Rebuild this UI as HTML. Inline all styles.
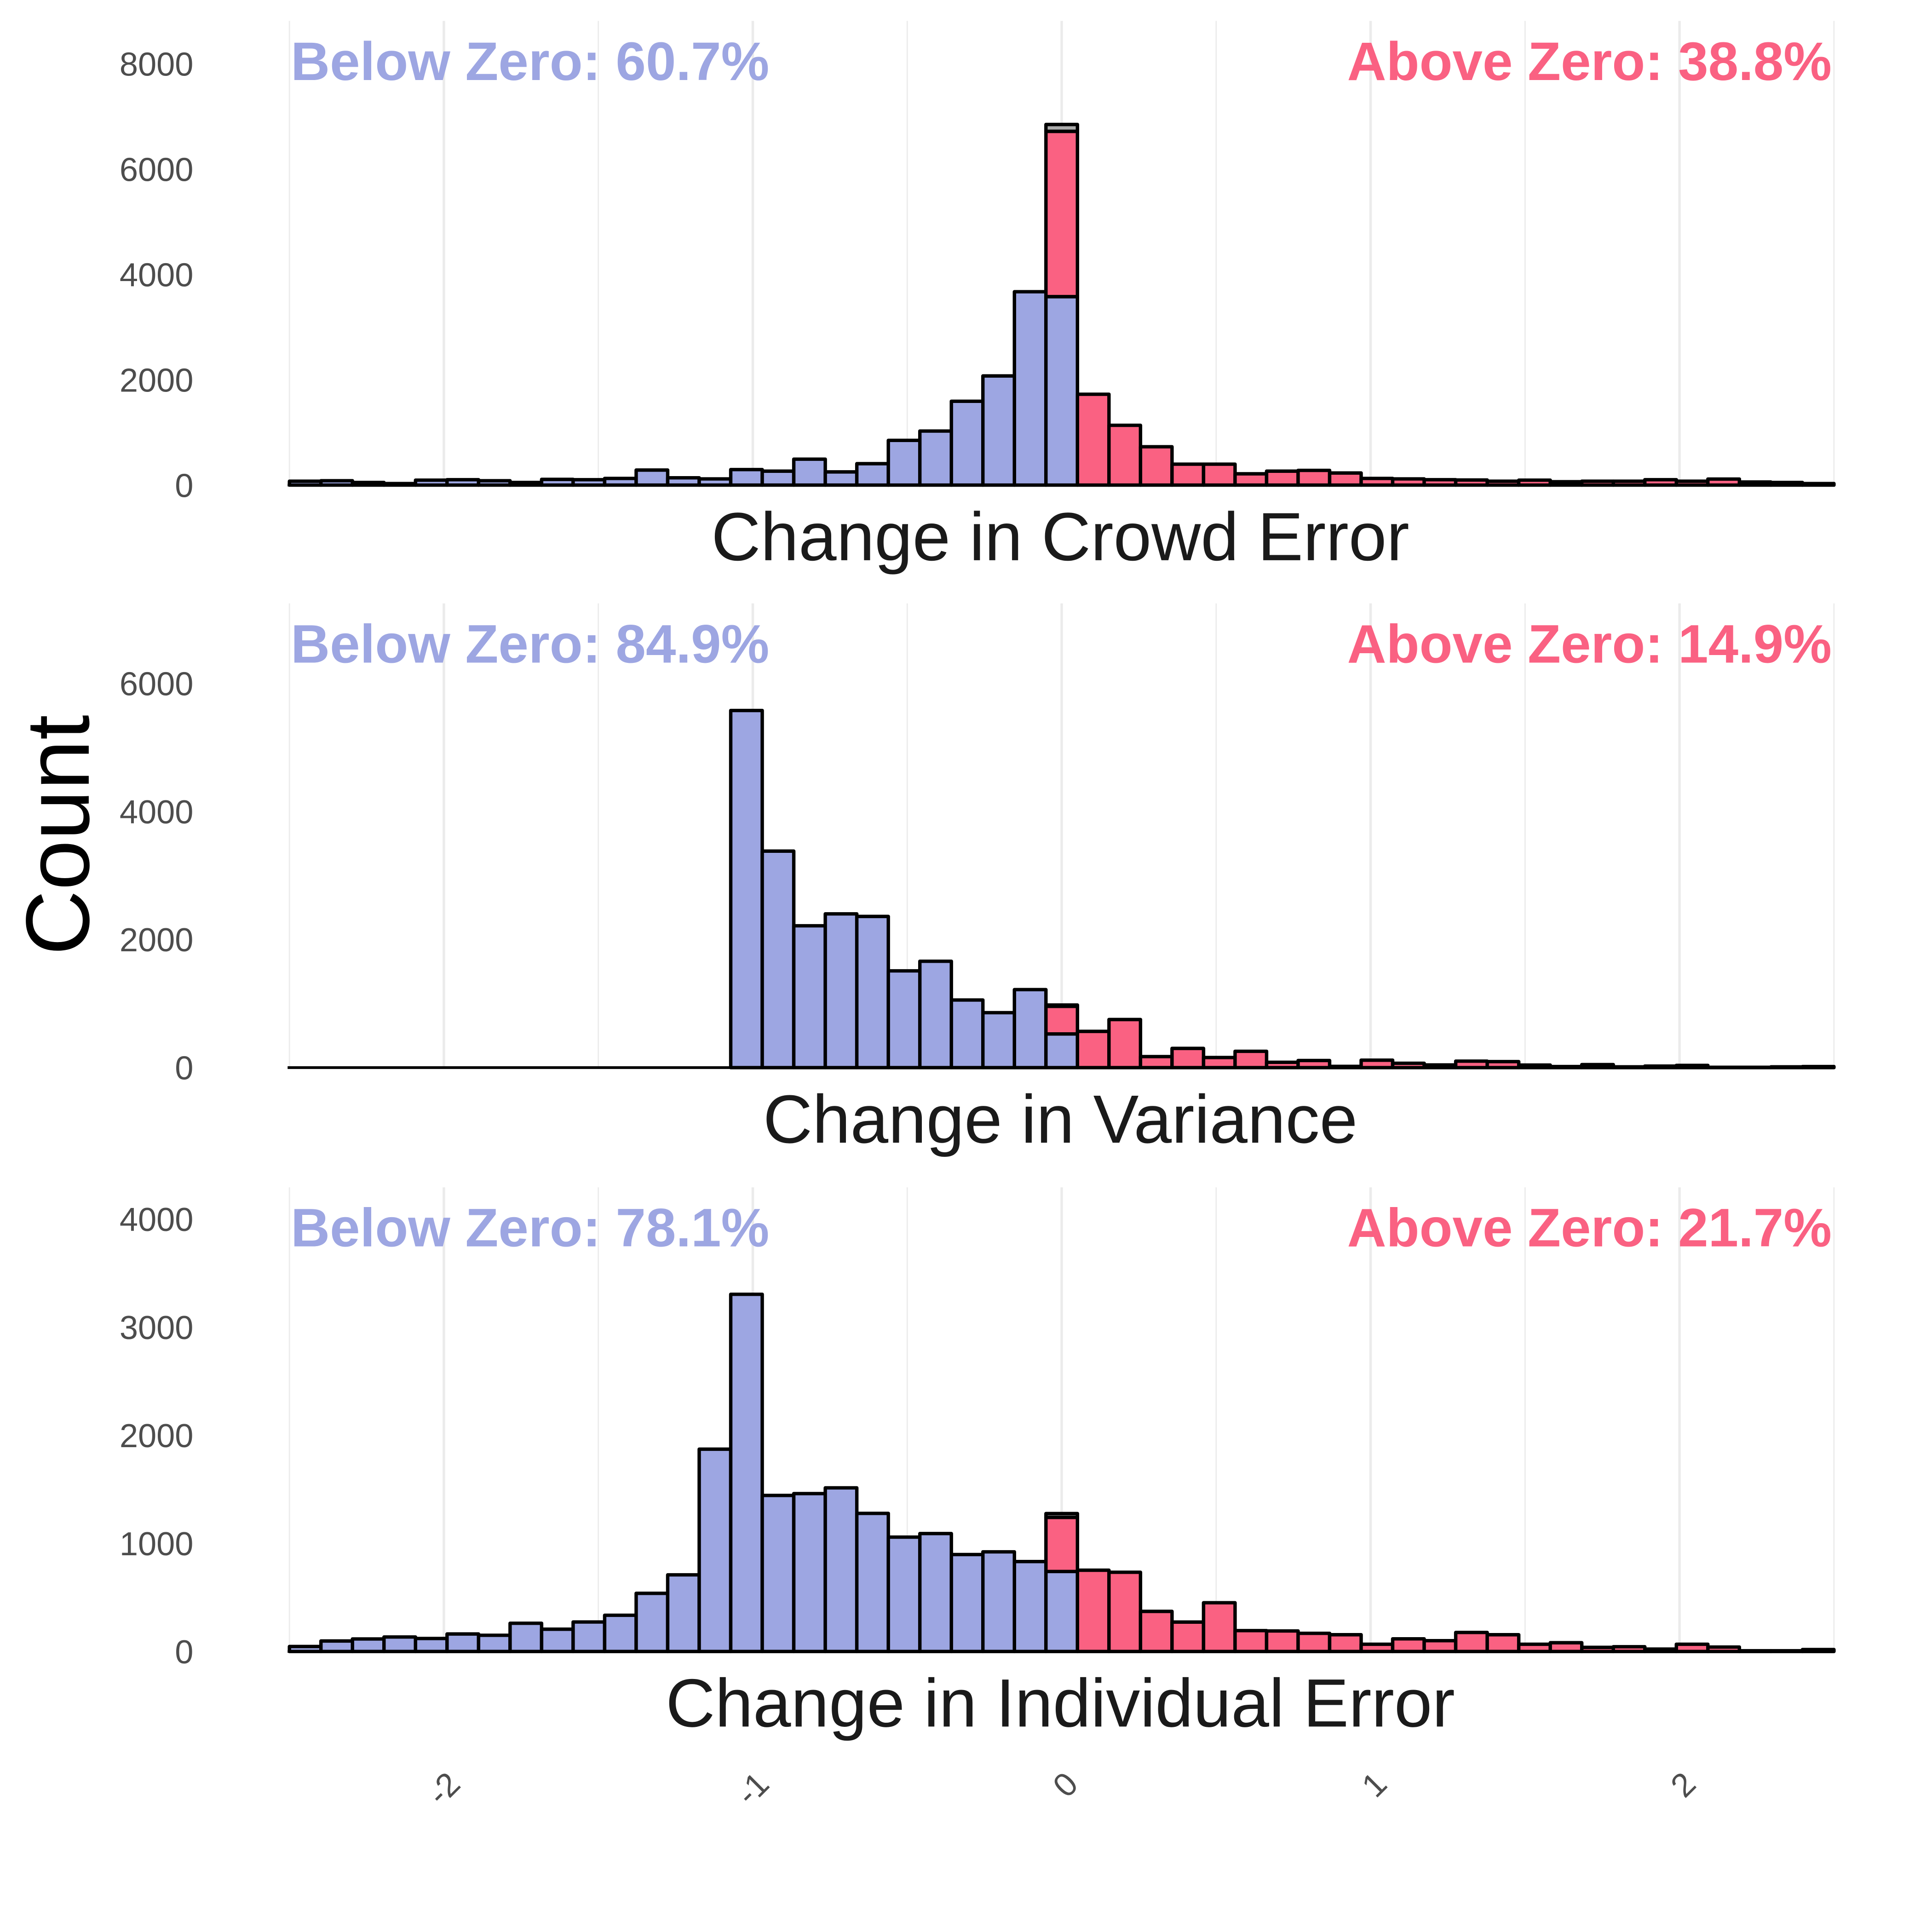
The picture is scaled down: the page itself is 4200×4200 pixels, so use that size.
<!DOCTYPE html>
<html><head><meta charset="utf-8">
<style>
html,body{margin:0;padding:0;background:#fff;}
svg{display:block;}
text{font-family:"Liberation Sans",Arial,sans-serif;}
</style></head>
<body>
<svg width="4200" height="4200" viewBox="0 0 4200 4200" xmlns="http://www.w3.org/2000/svg">
<rect width="4200" height="4200" fill="#ffffff"/>
<g id="chart" transform="scale(0.9893)">
<text transform="translate(195,1835) rotate(-90)" text-anchor="middle" font-size="198" fill="#000">Count</text>
</g>
</svg>
<script>
// ---- data (counts per bin, 49 bins spanning -2.5..2.5) ----
const titles = ["Change in Crowd Error", "Change in Variance", "Change in Individual Error"];
const belowLabels = ["Below Zero: 60.7%", "Below Zero: 84.9%", "Below Zero: 78.1%"];
const aboveLabels = ["Above Zero: 38.8%", "Above Zero: 14.9%", "Above Zero: 21.7%"];
const xTicks = [-2, -1, 0, 1, 2];
const xTickLabels = ["-2", "-1", "0", "1", "2"];
const yTicks1 = [0, 2000, 4000, 6000, 8000];
const yTicks2 = [0, 2000, 4000, 6000];
const yTicks3 = [0, 1000, 2000, 3000, 4000];

const below1 = [74,83,50,30,94,103,83,50,109,103,127,286,139,118,295,265,493,251,407,850,1027,1593,2074,3673,3580,0,0,0,0,0,0,0,0,0,0,0,0,0,0,0,0,0,0,0,0,0,0,0,0];
const above1 = [0,0,0,0,0,0,0,0,0,0,0,0,0,0,0,0,0,0,0,0,0,0,0,0,3140,1726,1136,729,398,398,215,265,280,230,127,118,103,97,74,94,65,74,74,103,74,115,59,50,30];
const zero1  = [0,0,0,0,0,0,0,0,0,0,0,0,0,0,0,0,0,0,0,0,0,0,0,0,130,0,0,0,0,0,0,0,0,0,0,0,0,0,0,0,0,0,0,0,0,0,0,0,0];

const below2 = [0,0,0,0,0,0,0,0,0,0,0,0,0,0,5577,3381,2215,2401,2361,1511,1661,1056,858,1218,526,0,0,0,0,0,0,0,0,0,0,0,0,0,0,0,0,0,0,0,0,0,0,0,0];
const above2 = [0,0,0,0,0,0,0,0,0,0,0,0,0,0,0,0,0,0,0,0,0,0,0,0,431,566,751,172,300,158,255,83,111,19,116,68,42,101,94,40,17,47,12,24,35,5,5,12,17];
const zero2  = [0,0,0,0,0,0,0,0,0,0,0,0,0,0,0,0,0,0,0,0,0,0,0,0,20,0,0,0,0,0,0,0,0,0,0,0,0,0,0,0,0,0,0,0,0,0,0,0,0];

const below3 = [46,97,116,134,120,162,150,261,206,273,335,538,709,1872,3305,1444,1461,1514,1278,1058,1091,897,922,832,740,0,0,0,0,0,0,0,0,0,0,0,0,0,0,0,0,0,0,0,0,0,0,0,0];
const above3 = [0,0,0,0,0,0,0,0,0,0,0,0,0,0,0,0,0,0,0,0,0,0,0,0,501,752,733,371,272,451,193,190,168,155,67,117,100,176,155,67,81,38,44,22,67,41,7,7,18];
const zero3  = [0,0,0,0,0,0,0,0,0,0,0,0,0,0,0,0,0,0,0,0,0,0,0,0,35,0,0,0,0,0,0,0,0,0,0,0,0,0,0,0,0,0,0,0,0,0,0,0,0];

const xMin = -2.5, xMax = 2.5, nBins = 49;

// ---- layout ----
const NS = "http://www.w3.org/2000/svg";
const svg = document.getElementById("chart");
const plotL = 636, plotR = 4030;
const panels = [
  {top: 46,   base: 1066, ymax: 8817, ticks: yTicks1, below: below1, above: above1, zero: zero1, titleY: 1231},
  {top: 1326, base: 2346, ymax: 7249, ticks: yTicks2, below: below2, above: above2, zero: zero2, titleY: 2511},
  {top: 2609, base: 3629, ymax: 4295, ticks: yTicks3, below: below3, above: above3, zero: zero3, titleY: 3794}
];
const BLUE = "#9DA6E2", RED = "#FA6182", GREY = "#ABABAB";
function xs(v){ return plotL + (v - xMin) / (xMax - xMin) * (plotR - plotL); }
function mk(tag, attrs, parent){
  const e = document.createElementNS(NS, tag);
  for (const k in attrs) e.setAttribute(k, attrs[k]);
  (parent || svg).appendChild(e);
  return e;
}

panels.forEach((p, pi) => {
  const g = mk("g", {});
  
  
  const ys = v => p.base - v / p.ymax * (p.base - p.top);
  for (let k = 0; k <= 10; k++) {
    const v = xMin + k * 0.5;
    const major = Math.abs(v - Math.round(v)) < 1e-9;
    const ln = mk("line", {x1: xs(v), x2: xs(v), y1: p.top, y2: p.base, stroke: "#EBEBEB", "stroke-width": major ? 5.5 : 2.8}, g);
    
    
  }
  p.ticks.forEach(t => {
    const tx = mk("text", {x: 425, y: ys(t) + 26, "text-anchor": "end", "font-size": 73, fill: "#4D4D4D"}, g);
    tx.textContent = String(t);
    
    
  });
  const bl = mk("line", {x1: plotL - 4, x2: plotR, y1: p.base, y2: p.base, stroke: "#000", "stroke-width": 6}, g);
  
  
  const w = (xMax - xMin) / nBins;
  for (let i = 0; i < nBins; i++) {
    const x0 = xs(xMin + i * w), x1 = xs(xMin + (i + 1) * w);
    const segs = [[p.below[i], BLUE, 'bar-below'], [p.above[i], RED, 'bar-above'], [p.zero[i], GREY, 'bar-zero']];
    let acc = 0;
    segs.forEach(s => {
      if (s[0] <= 0) return;
      const yTop = ys(acc + s[0]), yBot = ys(acc);
      const r = mk("rect", {x: x0, y: yTop, width: x1 - x0, height: yBot - yTop, fill: s[1], stroke: "#000", "stroke-width": 7.5, "stroke-linejoin": "round"}, g);
      
      
      acc += s[0];
    });
  }
  const tb = mk("text", {x: 639, y: p.top + 130, "font-size": 119, "font-weight": "bold", fill: BLUE}, g);
  tb.textContent = belowLabels[pi];
  
  
  const ta = mk("text", {x: 4025, y: p.top + 130, "text-anchor": "end", "font-size": 119, "font-weight": "bold", fill: RED}, g);
  ta.textContent = aboveLabels[pi];
  
  
  const tt = mk("text", {x: 2330, y: p.titleY, "text-anchor": "middle", "font-size": 150, fill: "#1A1A1A"}, g);
  tt.textContent = titles[pi];
  
  
});

xTicks.forEach((v, i) => {
  const x = xs(v) + 40, y = 3925;
  const t = mk("text", {x: x, y: y, "text-anchor": "end", "font-size": 73, fill: "#4D4D4D", transform: "rotate(-45 " + x + " " + y + ")"});
  t.textContent = xTickLabels[i];
  
  
});
</script>
</body></html>
